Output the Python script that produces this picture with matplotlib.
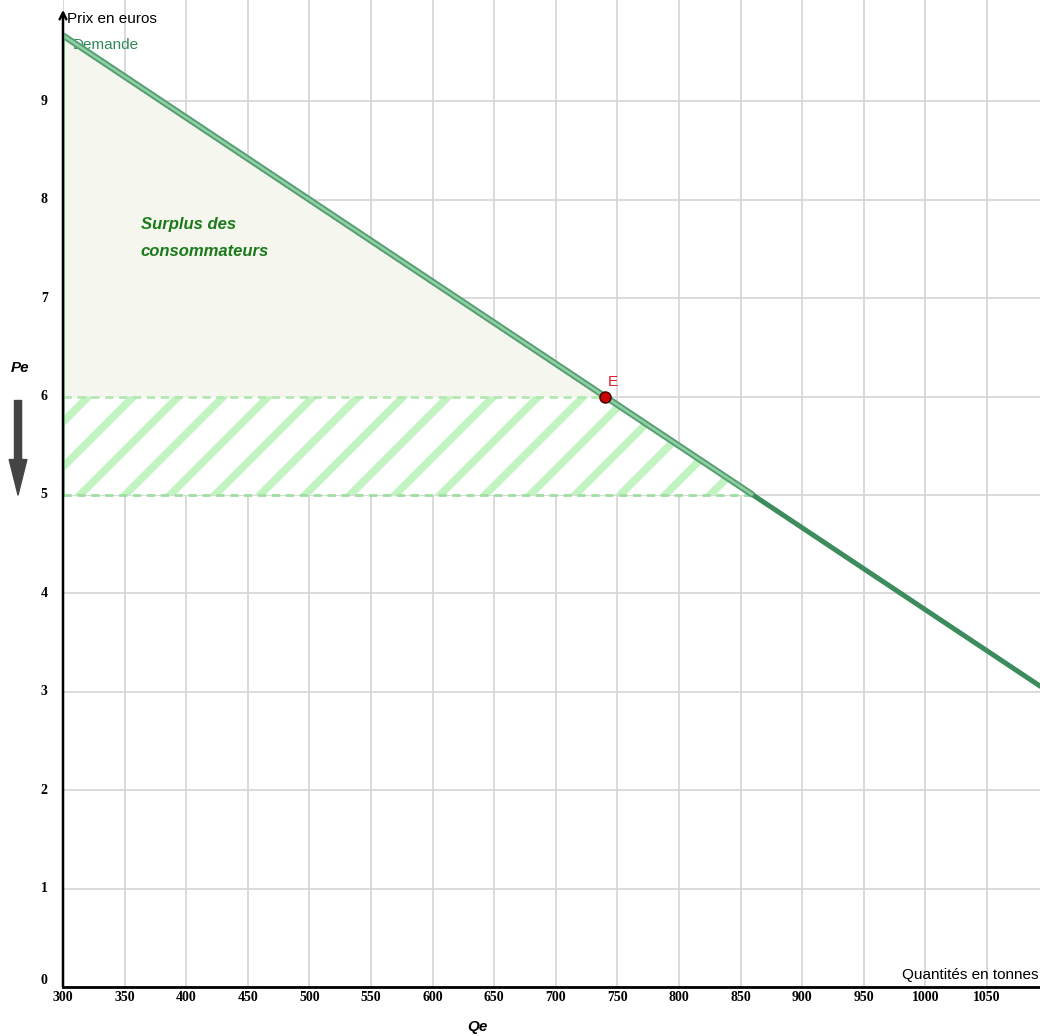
import matplotlib
matplotlib.use("Agg")
import matplotlib.pyplot as plt
import numpy as np
from matplotlib.patches import Polygon

# ---- data ----
x_ticks = [300, 350, 400, 450, 500, 550, 600, 650, 700, 750, 800, 850, 900, 950, 1000, 1050]
y_ticks = [0, 1, 2, 3, 4, 5, 6, 7, 8, 9]
demand_q = [300, 740, 860, 1100]
demand_p = [9.67, 6.0, 5.0, 3.0]
eq_q, eq_p = 740, 6.0          # point E
new_q, new_p = 860, 5.0        # new equilibrium after price drop
surplus_label = "Surplus des\nconsommateurs"

XMIN, XMAX = 300, 1093
YMIN, YMAX = 0, 10.03

fig = plt.figure(figsize=(10.4, 10.36), dpi=100)
ax = fig.add_axes([63/1040, 1 - 987/1036, 977/1040, 987/1036])
ax.set_xlim(XMIN, XMAX)
ax.set_ylim(YMIN, YMAX)

# grid
ax.set_xticks(x_ticks)
ax.set_yticks(y_ticks)
ax.grid(True, color="#d4d4d4", linewidth=1.2, zorder=0)
ax.set_axisbelow(True)
ax.tick_params(axis="x", length=0, pad=3)
ax.tick_params(axis="y", length=0, pad=11)
ax.set_xticklabels([str(v) for v in x_ticks], fontfamily="Liberation Serif",
                   fontweight="bold", fontsize=10)
ax.set_yticklabels([str(v) for v in y_ticks], fontfamily="Liberation Serif",
                   fontweight="bold", fontsize=10)
for lab in ax.get_yticklabels():
    lab.set_verticalalignment("center")
ax.get_yticklabels()[0].set_verticalalignment("bottom")

for s in ["top", "right", "left"]:
    ax.spines[s].set_visible(False)
ax.spines["bottom"].set_linewidth(2)
ax.spines["bottom"].set_color("black")

# y axis with arrow
ax.annotate("", xy=(XMIN, 9.93), xytext=(XMIN, 0), xycoords="data",
            arrowprops=dict(arrowstyle="->", color="black", lw=1.8,
                            shrinkA=0, shrinkB=0, mutation_scale=12),
            annotation_clip=False, zorder=6)

# consumer surplus triangle
p_top = demand_p[0]
tri = Polygon([(XMIN, eq_p), (eq_q, eq_p), (demand_q[0], p_top)], closed=True,
              facecolor="#f5f7ee", edgecolor="none", zorder=1)
ax.add_patch(tri)
ax.plot([XMIN, XMIN], [new_p, p_top], color="#8fd89a", lw=2, zorder=5,
        clip_on=False)

# hatched band between Pe and new price (45 degree stripes on screen)
band = Polygon([(XMIN, new_p), (new_q, new_p), (eq_q, eq_p), (XMIN, eq_p)],
               closed=True, facecolor="white", edgecolor="none", zorder=1)
ax.add_patch(band)
px_per_x = 977 / (XMAX - XMIN)
px_per_y = 987 / (YMAX - YMIN)
dx_per_unit = px_per_y / px_per_x
spacing = 45 / px_per_x
start = 313.8 - 3 * spacing
k = 0
while start + k * spacing < new_q + 10:
    x0 = start + k * spacing
    ln, = ax.plot([x0 - dx_per_unit, x0 + 2 * dx_per_unit], [new_p - 1, new_p + 2],
                  color="#c2f4c2", lw=5.5, solid_capstyle="butt", zorder=2)
    ln.set_clip_path(band)
    k += 1

ax.plot([XMIN, eq_q], [eq_p, eq_p], color="#b3e8b3", lw=2, ls=(0, (3, 2)), zorder=3)
ax.plot([XMIN, new_q], [new_p, new_p], color="#9fdf9f", lw=2, ls=(0, (3, 2)), zorder=3)

# demand curve
q = np.array(demand_q)
p = np.array(demand_p)
ax.plot(q[:3], p[:3], color="#559f72", lw=4.6, solid_capstyle="butt", zorder=4)
ax.plot(q[:3], p[:3], color="#90d0a4", lw=1.8, solid_capstyle="butt", zorder=4)
ax.plot(q[2:], p[2:], color="#3d8c5e", lw=3.6, solid_capstyle="butt", zorder=4)

# point E
ax.plot([eq_q], [eq_p], "o", color="#cc0000", markeredgecolor="#3a0000",
        markersize=8, markeredgewidth=1, zorder=7)
ax.text(eq_q + 2, eq_p + 0.08, "E", color="#e0202a", fontsize=11,
        fontfamily="Liberation Sans", ha="left", va="bottom", zorder=7)

# texts
ax.text(XMIN + 3, 9.84, "Prix en euros", fontsize=11, fontfamily="Liberation Sans",
        ha="left", va="center", color="black")
ax.text(XMIN + 8, 9.57, "Demande", fontsize=11, fontfamily="Liberation Sans",
        ha="left", va="center", color="#2e8b57")
ax.text(XMAX - 1, 0.12, "Quantités en tonnes", fontsize=11,
        fontfamily="Liberation Sans", ha="right", va="center", color="black")
ax.text(363, 7.61, surplus_label, fontsize=12, fontfamily="Liberation Sans",
        fontweight="bold", fontstyle="italic", color="#1a7a1a",
        ha="left", va="center", linespacing=1.95)

ax.text(265.0, 6.29, "Pe", fontsize=11, fontfamily="Liberation Sans",
        fontweight="bold", fontstyle="italic", ha="center", va="center",
        clip_on=False)
ax.text(636.5, -0.41, "Qe", fontsize=11, fontfamily="Liberation Sans",
        fontweight="bold", fontstyle="italic", ha="center", va="center",
        clip_on=False)
ax.annotate("", xy=(263.5, 5.0), xytext=(263.5, 5.96), xycoords="data",
            arrowprops=dict(arrowstyle="simple,head_width=0.75,head_length=1.5,tail_width=0.3",
                            color="#444444", shrinkA=0, shrinkB=0, mutation_scale=17),
            annotation_clip=False)

fig.savefig("out.png", dpi=100)
